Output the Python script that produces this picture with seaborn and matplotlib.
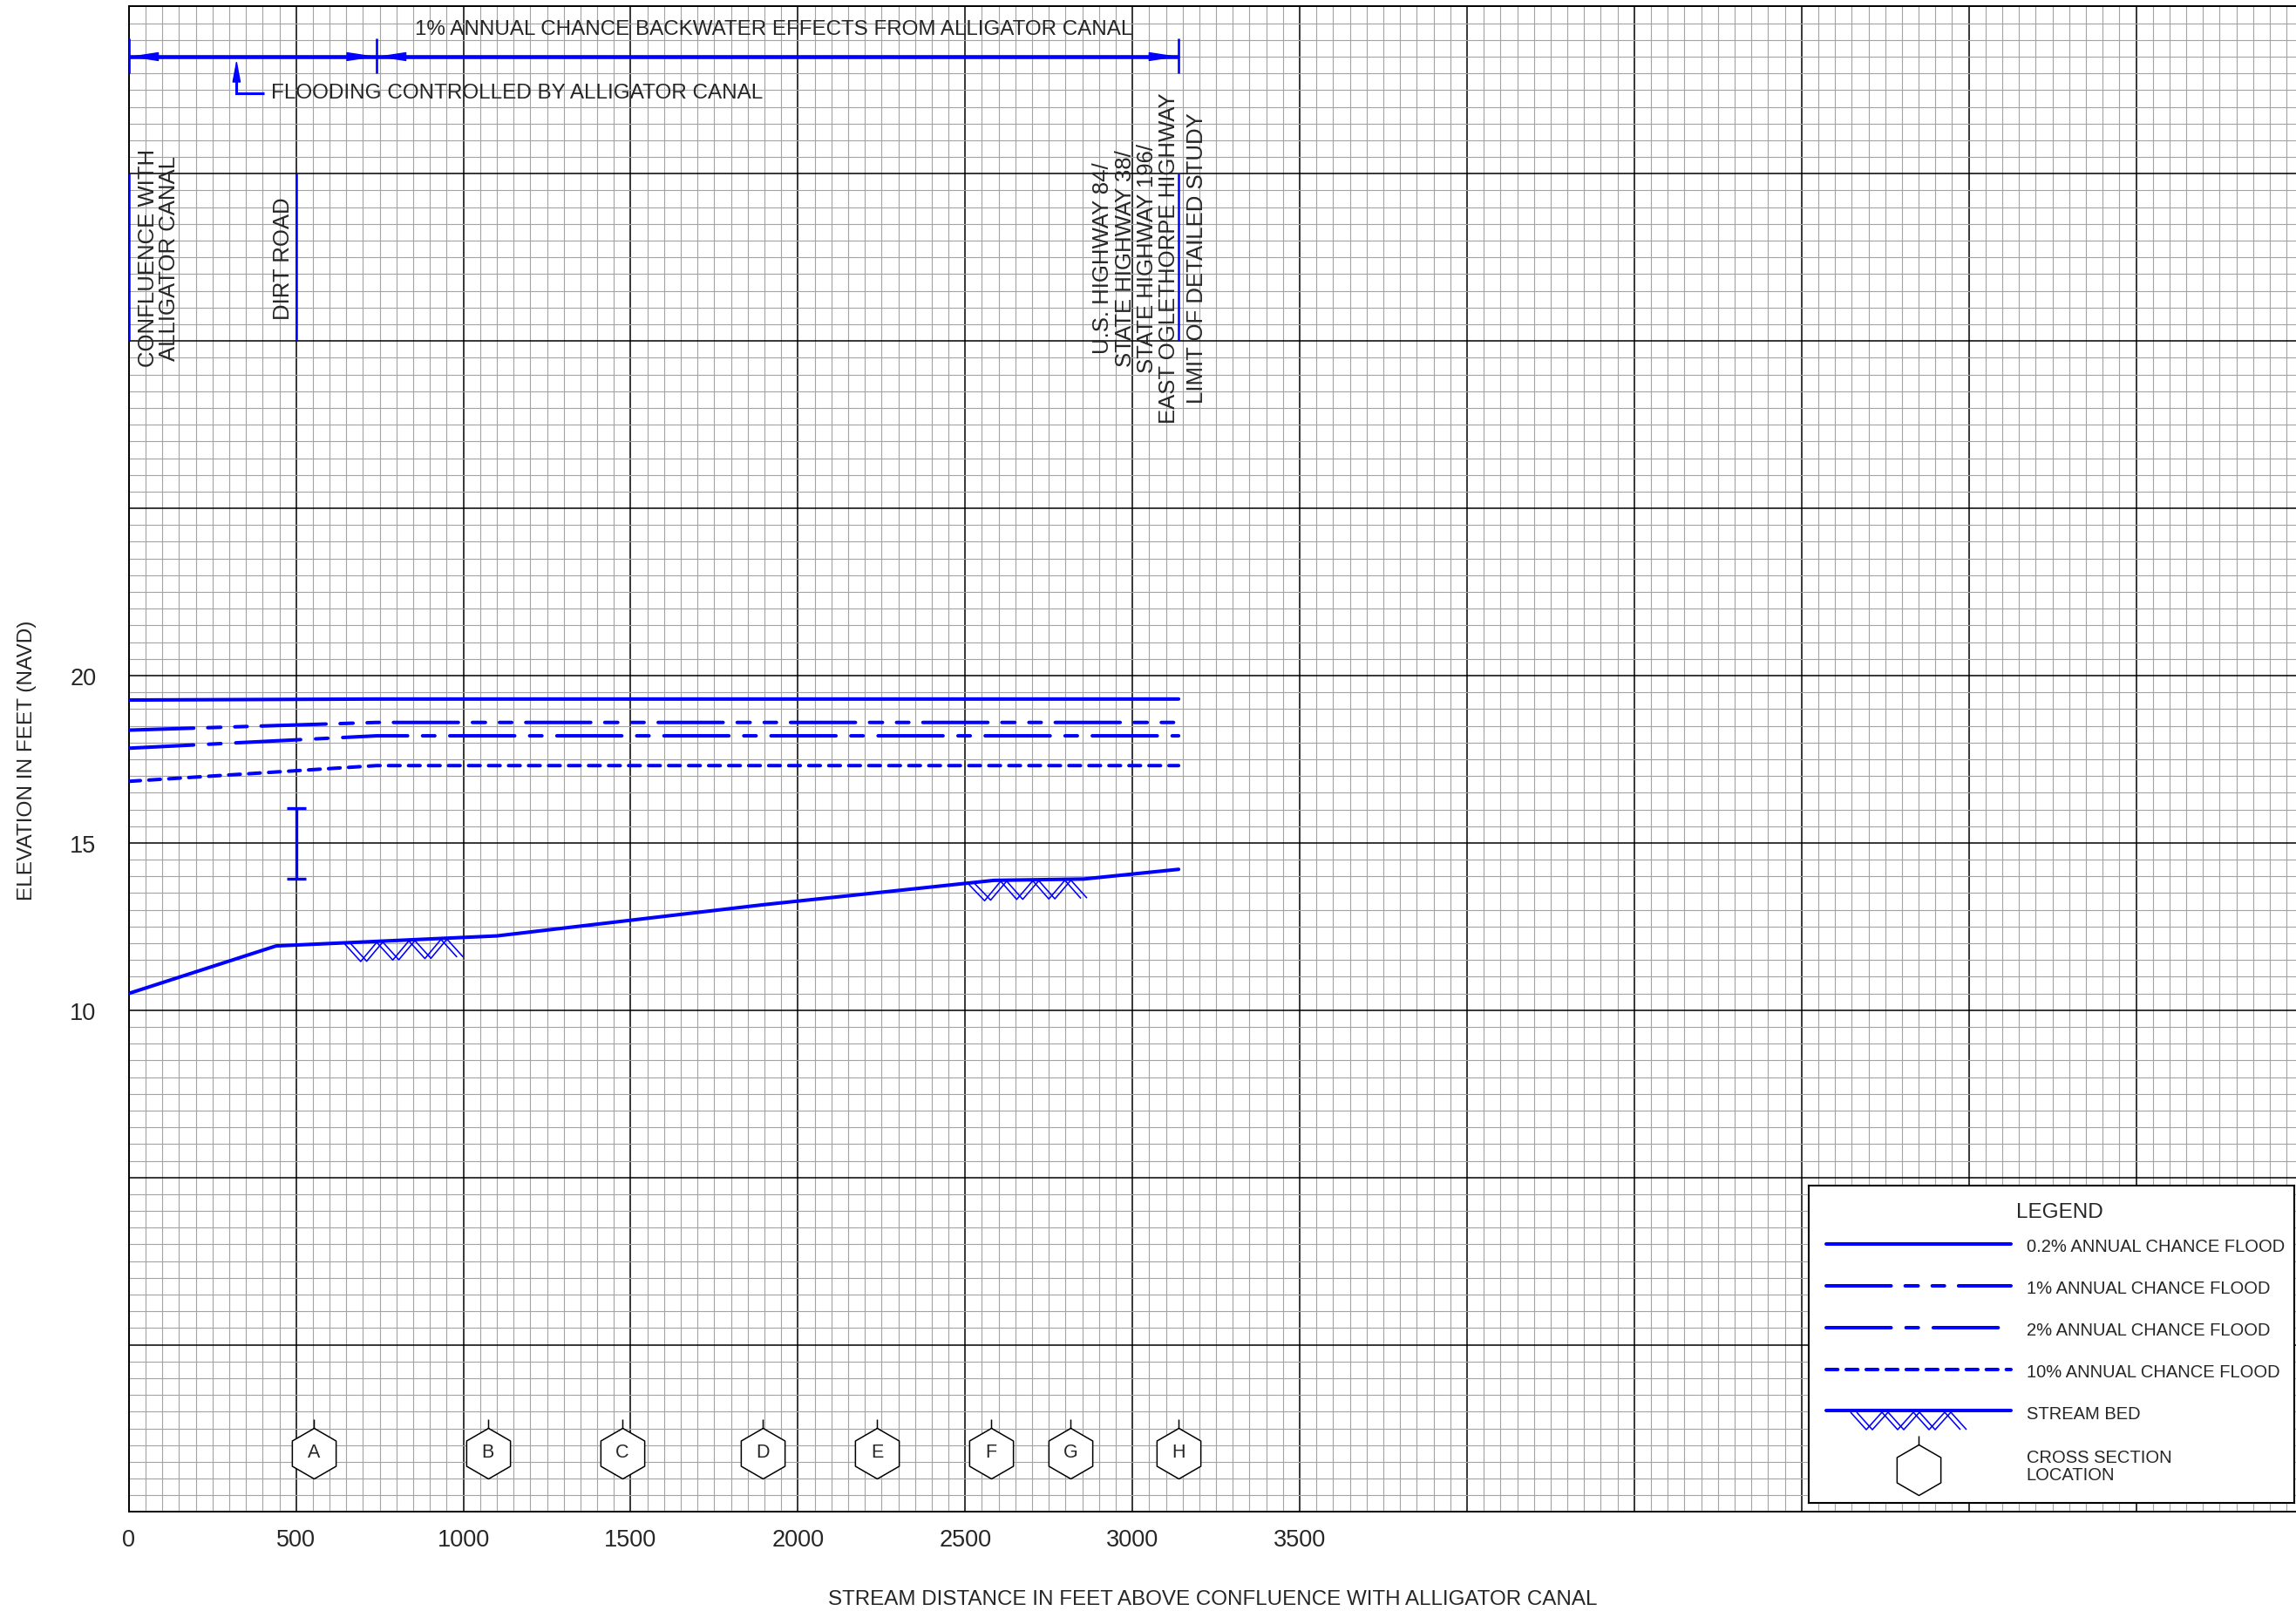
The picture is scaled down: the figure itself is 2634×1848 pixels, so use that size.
import numpy as np
import pandas as pd
import matplotlib
matplotlib.use("Agg")
import matplotlib.pyplot as plt
from matplotlib.path import Path
from matplotlib.ticker import FixedLocator, MultipleLocator
import seaborn as sns

# ---------------------------------------------------------------- data
flood_station = [0, 740, 3138]
flood_02 = [19.27, 19.30, 19.30]
flood_1 = [18.37, 18.60, 18.60]
flood_2 = [17.83, 18.20, 18.20]
flood_10 = [16.84, 17.31, 17.31]

bed_station = [0, 440, 1100, 1895, 2586, 2854, 3138]
bed_elev = [10.50, 11.92, 12.22, 13.15, 13.88, 13.92, 14.21]
bed_hatch_ranges = [(645, 1005), (2510, 2875)]

xs_labels = ["A", "B", "C", "D", "E", "F", "G", "H"]
xs_station = [553, 1073, 1475, 1895, 2236, 2577, 2815, 3138]
xs_elev = -3.25

structure_station = [0, 500, 3138]
structure_span = (30, 35)

road_station = 500
road_low, road_high = 13.92, 16.05

backwater_limits = [0, 740, 3138]
backwater_elev = 38.5

x_major = [0, 500, 1000, 1500, 2000, 2500, 3000, 3500, 4000, 4500, 5000, 5500, 6000]
x_labels = ["0", "500", "1000", "1500", "2000", "2500", "3000", "3500", "", "", "", "", ""]
y_major = [-5, 0, 5, 10, 15, 20, 25, 30, 35, 40]
y_labels = ["", "", "", "10", "15", "20", "", "", "", ""]

# ---------------------------------------------------------------- style
BLUE = "#0000ff"
LW = 2.9
styles = {
    "0.2% ANNUAL CHANCE FLOOD": "-",
    "1% ANNUAL CHANCE FLOOD": (0, (18.5, 4.0, 3.7, 4.0, 3.5, 4.0)),
    "2% ANNUAL CHANCE FLOOD": (0, (18.5, 4.25, 3.5, 4.25)),
    "10% ANNUAL CHANCE FLOOD": (0, (3.3, 2.4)),
}

sns.set_style("white")
plt.rcParams["font.family"] = ["Liberation Sans", "DejaVu Sans"]

fig = plt.figure(figsize=(26.34, 18.49), dpi=100)
ax = fig.add_axes([0.05611, 0.06139, 0.94389, 0.93407])
ax.set_xlim(0, 6478)
ax.set_ylim(-5, 40)

# ---------------------------------------------------------------- water surface profiles
profiles = pd.DataFrame({
    "station": flood_station * 4,
    "elev": flood_02 + flood_1 + flood_2 + flood_10,
    "event": sum([[name] * len(flood_station) for name in styles], []),
})
for name, ls in styles.items():
    sub = profiles[profiles["event"] == name]
    sns.lineplot(data=sub, x="station", y="elev", ax=ax, color=BLUE, lw=LW,
                 linestyle=ls, dash_capstyle="round", solid_capstyle="round",
                 estimator=None, sort=False, legend=False, zorder=4)

bed = pd.DataFrame({"station": bed_station, "elev": bed_elev})
sns.lineplot(data=bed, x="station", y="elev", ax=ax, color=BLUE, lw=LW,
             estimator=None, sort=False, legend=False, solid_capstyle="round", zorder=4)

# ---------------------------------------------------------------- axes, grid, labels
ax.xaxis.set_major_locator(FixedLocator(x_major))
ax.set_xticklabels(x_labels)
ax.yaxis.set_major_locator(FixedLocator(y_major))
ax.set_yticklabels(y_labels)
ax.xaxis.set_minor_locator(MultipleLocator(50))
ax.yaxis.set_minor_locator(MultipleLocator(0.5))
ax.set_axisbelow(True)
ax.grid(which="minor", color="#a3a3a3", lw=0.8)
ax.grid(which="major", color="black", lw=1.1)
ax.tick_params(which="both", length=0)
ax.tick_params(axis="x", pad=13, labelsize=19.5)
ax.tick_params(axis="y", pad=27, labelsize=19.5)
for side in ("top", "left", "bottom"):
    ax.spines[side].set_color("black")
    ax.spines[side].set_linewidth(1.4)
ax.spines["right"].set_visible(False)

ax.set_xlabel("STREAM DISTANCE IN FEET ABOVE CONFLUENCE WITH ALLIGATOR CANAL", fontsize=17.4)
ax.xaxis.set_label_coords(0.5, -0.0576)
ax.xaxis.label.set_va("center")
ax.set_ylabel("ELEVATION IN FEET (NAVD)", fontsize=17.6)
ax.yaxis.set_label_coords(-0.047, 0.5)
ax.yaxis.label.set_va("center")


def bed_hatch(axis, x0, x1, top, period, depth, shift, **kw):
    """Doubled zig-zag hatch hanging below a stream bed line."""
    for off in (0.0, shift):
        xs = x0 + off + np.arange(0, 200) * period / 2.0
        xs = xs[xs <= x1 + 1e-9]
        ys = top(xs) - depth * (np.arange(len(xs)) % 2)
        axis.plot(xs, ys, color=BLUE, lw=1.15, solid_capstyle="butt", zorder=3)


for a, b in bed_hatch_ranges:
    bed_hatch(ax, a, b, lambda x: np.interp(x, bed_station, bed_elev) - 0.03,
              period=96, depth=0.55, shift=18)

# dirt road opening
ax.errorbar([road_station], [road_low], yerr=[[0], [road_high - road_low]], fmt="none",
            ecolor=BLUE, elinewidth=2.4, capsize=7.6, capthick=2.4, zorder=4)

# structure markers and labels
ax.vlines(structure_station, *structure_span, color=BLUE, lw=1.8, zorder=4)
mid = sum(structure_span) / 2
LBL = 18.5
ax.text(26, mid, "CONFLUENCE WITH\nALLIGATOR CANAL", rotation=90, ha="left", va="center",
        multialignment="center", linespacing=1.02, fontsize=LBL)
ax.text(493, mid, "DIRT ROAD", rotation=90, ha="right", va="center", fontsize=LBL)
ax.text(3140, mid, "U.S. HIGHWAY 84/\nSTATE HIGHWAY 38/\nSTATE HIGHWAY 196/\nEAST OGLETHORPE HIGHWAY",
        rotation=90, ha="right", va="center", multialignment="center", linespacing=1.06,
        fontsize=LBL)
ax.text(3160, mid, "LIMIT OF DETAILED STUDY", rotation=90, ha="left", va="center", fontsize=LBL)

# backwater extent arrows
for a, b in zip(backwater_limits[:-1], backwater_limits[1:]):
    ax.hlines(backwater_elev, a, b, color=BLUE, lw=3.3, zorder=4)
    ax.annotate("", xy=(b, backwater_elev), xytext=(a, backwater_elev),
                arrowprops=dict(arrowstyle="<|-|>,head_length=2.1,head_width=0.32",
                                color=BLUE, lw=1.0, shrinkA=0, shrinkB=0, mutation_scale=10),
                zorder=5)
ax.vlines(backwater_limits, backwater_elev - 0.5, backwater_elev + 0.55, color=BLUE, lw=1.9, zorder=4)
ax.text(1927, 39.34, "1% ANNUAL CHANCE BACKWATER EFFECTS FROM ALLIGATOR CANAL",
        ha="center", va="center", fontsize=17.4)

ax.annotate("", xy=(322, 38.42), xytext=(322, 37.40),
            arrowprops=dict(arrowstyle="-|>,head_length=1.6,head_width=0.3", color=BLUE,
                            lw=1.0, shrinkA=0, shrinkB=0, mutation_scale=10), zorder=5)
ax.plot([322, 322, 405], [38.1, 37.40, 37.40], color=BLUE, lw=2.2, solid_capstyle="butt",
        solid_joinstyle="miter", zorder=5)
ax.text(426, 37.44, "FLOODING CONTROLLED BY ALLIGATOR CANAL", ha="left", va="center",
        fontsize=17.5)

# cross-section hexagons with a short stem on top
ang = np.deg2rad(90 + 60 * np.arange(6))
hex_verts = [(np.cos(t), np.sin(t)) for t in ang]
verts = hex_verts + [hex_verts[0], (0, 1), (0, 1.345)]
codes = [Path.MOVETO] + [Path.LINETO] * 5 + [Path.CLOSEPOLY, Path.MOVETO, Path.LINETO]
xs_marker = Path(verts, codes)
XS_MS = 56.2

ax.plot(xs_station, [xs_elev] * len(xs_station), ls="none", marker=xs_marker, ms=XS_MS,
        mfc="white", mec="black", mew=1.1, zorder=6)
for lab, x in zip(xs_labels, xs_station):
    ax.text(x, xs_elev + 0.05, lab, ha="center", va="center", fontsize=15.5, zorder=7)

# ---------------------------------------------------------------- legend panel
lg = fig.add_axes([2075 / 2634, (1849 - 1725) / 1849, 557 / 2634, 364 / 1849])
lg.set_xlim(0, 557)
lg.set_ylim(364, 0)
lg.set_xticks([])
lg.set_yticks([])
lg.set_facecolor("white")
for s in lg.spines.values():
    s.set_visible(True)
    s.set_color("black")
    s.set_linewidth(1.5)

lg.text(288, 30, "LEGEND", ha="center", va="center", fontsize=17.5)
rows_y = [67, 115, 162.7, 210.7]
for (name, ls), y in zip(styles.items(), rows_y):
    lg.plot([19.5, 232.4], [y, y], color=BLUE, lw=LW, linestyle=ls,
            dash_capstyle="round", solid_capstyle="round")
    lg.text(249.7, y + 3, name, ha="left", va="center", fontsize=14.5)

lg.plot([19.5, 232.4], [258.3, 258.3], color=BLUE, lw=LW, solid_capstyle="round")
bed_hatch(lg, 48, 189, lambda x: np.full_like(x, 260.0), period=36, depth=-20, shift=7)
lg.text(249.7, 261.7, "STREAM BED", ha="left", va="center", fontsize=14.5)

lg.plot([126], [325.7], ls="none", marker=xs_marker, ms=XS_MS, mfc="white", mec="black", mew=1.1)
lg.text(249.7, 321.4, "CROSS SECTION\nLOCATION", ha="left", va="center", fontsize=14.5,
        linespacing=1.1)

fig.savefig("out.png", dpi=100)
